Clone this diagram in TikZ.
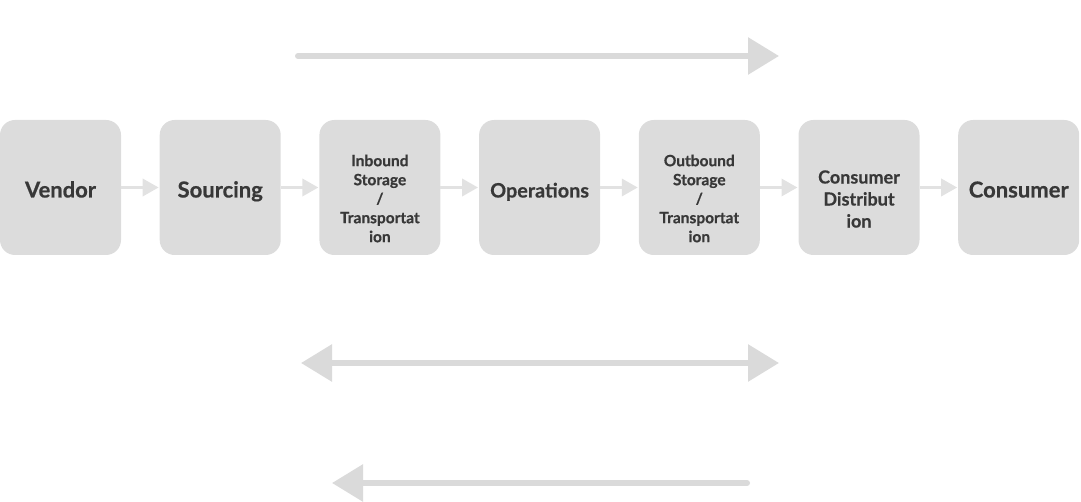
\documentclass[tikz,border=0pt]{standalone}
\usepackage{fontspec}
\setmainfont{Lato}[BoldFeatures={FakeBold=0.6}]
\usetikzlibrary{arrows.meta,positioning}
\definecolor{boxgray}{HTML}{DCDCDC}
\definecolor{linkgray}{HTML}{E2E2E2}
\definecolor{flowgray}{HTML}{DADADA}
\definecolor{labelgray}{HTML}{383838}
\tikzset{
  stage/.style={rectangle,rounded corners=15pt,fill=boxgray,minimum width=121pt,minimum height=135pt,
    inner sep=0pt,outer sep=0pt,align=center,text=labelgray,font=\bfseries\fontsize{22}{26}\selectfont,
    text height=20pt,text depth=0pt},
  stagetext/.style={inner sep=0pt,align=center,text=labelgray},
  smalltext/.style={font=\bfseries\fontsize{15.5}{19}\selectfont},
  midtext/.style={font=\bfseries\fontsize{18}{22}\selectfont},
  link/.style={draw=linkgray,line width=3.5pt,shorten >=1pt,-{Triangle[length=16pt,width=17pt,color=linkgray]}},
  flow/.style={draw=flowgray,line width=6pt,line cap=round},
  bigtip/.tip={Triangle[length=31pt,width=36pt,color=flowgray]},
  flowtitle/.style={text=white,font=\fontsize{24}{29}\selectfont}
}

\begin{document}
\begin{tikzpicture}[x=1pt,y=-1pt,node distance=38.7pt]
			\useasboundingbox (0,0) rectangle (1081,502);
			\node[stage] (vendor) at (60.5,187.5) {Vendor};
			\node[stage] [right= of vendor] (sourcing) {Sourcing};
			\node[stage] [right= of sourcing] (inbound) {};
			\node[stage,font=\bfseries\fontsize{19.8}{24}\selectfont] [right= of inbound] (operations) {Operations};
			\node[stage] [right= of operations] (outbound) {};
			\node[stage] [right= of outbound] (distribution) {};
			\node[stage] [right= of distribution] (consumer) {Consumer};
			\node[stagetext,smalltext] (inbound_txt) at ([yshift=-11pt]inbound.center) {Inbound\\Storage\\/\\Transportat\\ion};
			\node[stagetext,smalltext] (outbound_txt) at ([yshift=-11pt]outbound.center) {Outbound\\Storage\\/\\Transportat\\ion};
			\node[stagetext,midtext] (distribution_txt) at ([yshift=-11.5pt]distribution.center) {Consumer\\Distribut\\ion};
			\path
			(vendor) edge[link] (sourcing)
			(sourcing) edge[link] (inbound)
			(inbound) edge[link] (operations)
			(operations) edge[link] (outbound)
			(outbound) edge[link] (distribution)
			(distribution) edge[link] (consumer);
			% flow arrows
			\node[flowtitle] (material) at (540,20) {Material Flow};
			\coordinate (mat_s) at (298,56);
			\coordinate (mat_e) at (779,56);
			\draw[flow,-bigtip] (mat_s) -- (mat_e);
			\node[flowtitle] (information) at (540,328) {Information Flow};
			\coordinate (inf_s) at (301,363);
			\coordinate (inf_e) at (779,363);
			\draw[flow,bigtip-bigtip] (inf_s) -- (inf_e);
			\node[flowtitle] (money) at (538,446) {Money Flow};
			\coordinate (mon_s) at (747,483);
			\coordinate (mon_e) at (332,483);
			\draw[flow,-bigtip] (mon_s) -- (mon_e);
		\end{tikzpicture}
\end{document}
